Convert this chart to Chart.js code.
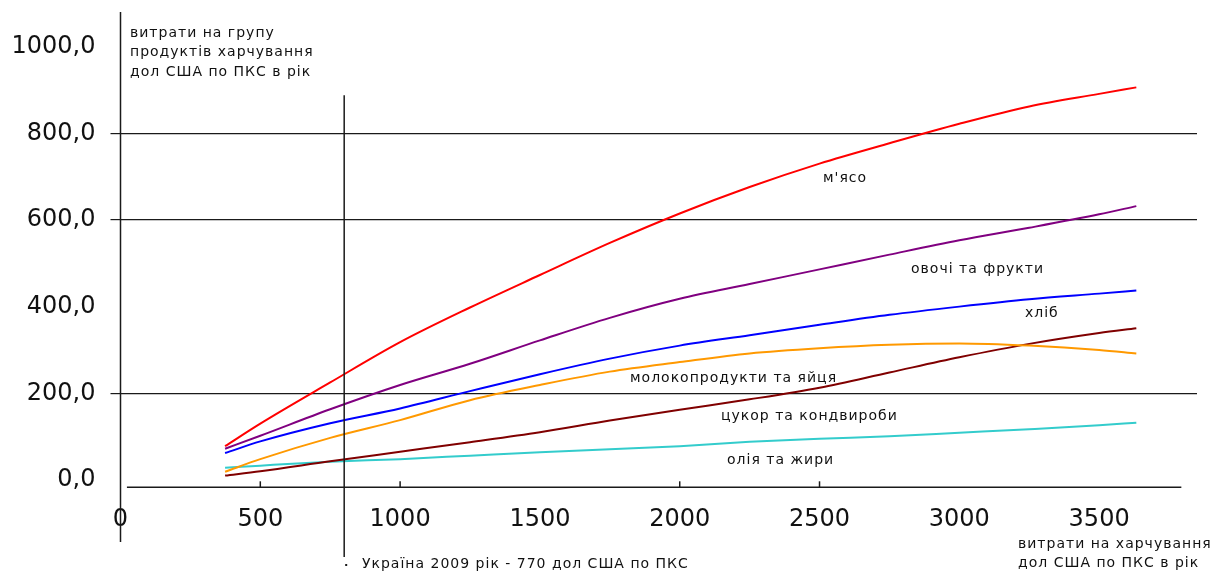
<!DOCTYPE html>
<html lang="uk">
<head>
<meta charset="UTF-8">
<title>Витрати на групи продуктів харчування</title>
<script src="https://cdn.jsdelivr.net/npm/chart.js"></script>
<style>
    body { margin: 0; background: #ffffff; }
    #wrap { width: 1220px; height: 572px; position: relative; }
</style>
</head>
<body>
<div id="wrap"><canvas id="chartCanvas"></canvas></div>

<script>
    // витрати на харчування, дол США по ПКС в рік (вісь X)
    const spending = [374, 500, 750, 1000, 1250, 1500, 1750, 2000, 2250, 2500, 2750, 3000, 3250, 3500, 3633];

    // витрати на групу продуктів, дол США по ПКС в рік
    const meat       = [78, 130, 225, 318, 398, 473, 547, 615, 676, 730, 777, 822, 862, 891, 906];
    const vegFruit   = [72, 102, 163, 219, 268, 322, 374, 418, 452, 486, 520, 553, 582, 613, 632];
    const bread      = [62,  89, 131, 165, 205, 244, 280, 310, 334, 358, 381, 400, 417, 430, 437];
    const dairyEggs  = [19,  48,  97, 138, 184, 219, 250, 272, 292, 304, 312, 315, 310, 300, 292];
    const sugar      = [10,  20,  43,  65,  87, 110, 137, 162, 186, 213, 248, 283, 314, 339, 350];
    const oilFat     = [28,  33,  42,  48,  56,  64,  71,  78,  88,  95, 101, 109, 117, 126, 132];

    const seriesNames = ["м'ясо", 'овочі та фрукти', 'хліб', 'молокопродукти та яйця', 'цукор та кондвироби', 'олія та жири'];

    const yTicks = [0, 200, 400, 600, 800, 1000];
    const xTicks = [0, 500, 1000, 1500, 2000, 2500, 3000, 3500];
    const yGridShown = [200, 600, 800];          // лінії сітки, що є на малюнку
    const xTickMarks = [500, 1000, 2000, 2500];  // засічки на осі X
    const ukraineSpending = 800;                 // Україна 2009 рік

    function toPoints(values) {
        return values.map((v, i) => ({ x: spending[i], y: v }));
    }

    const colors = ['#ff0000', '#800080', '#0000ff', '#ff9900', '#800000', '#33cccc'];
    const allSeries = [meat, vegFruit, bread, dairyEggs, sugar, oilFat];

    const datasets = allSeries.map((s, i) => ({
        label: seriesNames[i],
        data: toPoints(s),
        borderColor: colors[i],
        borderWidth: 2,
        pointRadius: 0,
        fill: false,
        cubicInterpolationMode: 'monotone'
    }));

    // підписи, осі та вертикальна лінія України
    const extras = {
        id: 'extras',
        afterDatasetsDraw(chart) {
            const ctx = chart.ctx;
            const x = chart.scales.x;
            const y = chart.scales.y;
            const area = chart.chartArea;

            ctx.save();
            ctx.strokeStyle = '#1a1a1a';
            ctx.lineWidth = 1.5;

            // вісь Y
            const x0 = x.getPixelForValue(0);
            ctx.beginPath();
            ctx.moveTo(x0, 12);
            ctx.lineTo(x0, 542);
            ctx.stroke();

            // вісь X
            ctx.beginPath();
            ctx.moveTo(x.getPixelForValue(23), area.bottom);
            ctx.lineTo(x.getPixelForValue(3794), area.bottom);
            ctx.stroke();

            // засічки
            xTickMarks.forEach(v => {
                const px = x.getPixelForValue(v);
                ctx.beginPath();
                ctx.moveTo(px, area.bottom);
                ctx.lineTo(px, area.bottom - 6);
                ctx.stroke();
            });

            // Україна 2009
            const ux = x.getPixelForValue(ukraineSpending);
            ctx.beginPath();
            ctx.moveTo(ux, y.getPixelForValue(888));
            ctx.lineTo(ux, 557);
            ctx.stroke();
            ctx.fillStyle = '#1a1a1a';
            ctx.fillRect(ux + 1, 564, 2, 2);

            // тексти
            ctx.fillStyle = '#111';
            ctx.font = '14px "DejaVu Sans"';
            ctx.letterSpacing = '1px';
            ctx.textBaseline = 'middle';
            ctx.textAlign = 'left';

            ctx.fillText('витрати на групу', 130, 33);
            ctx.fillText('продуктів харчування', 130, 52);
            ctx.fillText('дол США по ПКС в рік', 130, 72);

            ctx.fillText("м'ясо", 823, 178);
            ctx.fillText('овочі та фрукти', 911, 269);
            ctx.fillText('хліб', 1025, 313);
            ctx.fillText('молокопродукти та яйця', 630, 378);
            ctx.fillText('цукор та кондвироби', 721, 416);
            ctx.fillText('олія та жири', 727, 460);

            ctx.fillText('Україна 2009 рік - 770 дол США по ПКС', 362, 564);
            ctx.fillText('витрати на харчування', 1018, 544);
            ctx.fillText('дол США по ПКС в рік', 1018, 563);

            ctx.restore();
        }
    };

    new Chart(document.getElementById('chartCanvas'), {
        type: 'line',
        data: { datasets: datasets },
        options: {
            responsive: true,
            maintainAspectRatio: false,
            animation: false,
            layout: { padding: { top: 12, right: 23, bottom: 24.7, left: 0 } },
            plugins: {
                legend: { display: false },
                tooltip: { enabled: false }
            },
            scales: {
                x: {
                    type: 'linear',
                    min: 0,
                    max: 3850,
                    afterBuildTicks: s => { s.ticks = xTicks.map(v => ({ value: v })); },
                    afterFit: s => { s.height = 60; s.paddingLeft = 0; s.paddingRight = 0; },
                    grid: { display: false },
                    border: { display: false },
                    ticks: {
                        padding: 10,
                        maxRotation: 0,
                        color: '#111',
                        font: { family: 'DejaVu Sans', size: 24 },
                        callback: v => String(v)
                    }
                },
                y: {
                    min: -17,
                    max: 1080,
                    afterBuildTicks: s => { s.ticks = yTicks.map(v => ({ value: v })); },
                    afterFit: s => { s.width = 120.5; s.paddingTop = 0; s.paddingBottom = 0; },
                    border: { display: false },
                    grid: {
                        color: c => yGridShown.includes(c.tick.value) ? '#1a1a1a' : 'rgba(0,0,0,0)',
                        lineWidth: 1.2,
                        tickLength: 10
                    },
                    ticks: {
                        padding: 15,
                        color: '#111',
                        font: { family: 'DejaVu Sans', size: 24 },
                        callback: v => v.toFixed(1).replace('.', ',')
                    }
                }
            }
        },
        plugins: [extras]
    });
</script>
</body>
</html>
